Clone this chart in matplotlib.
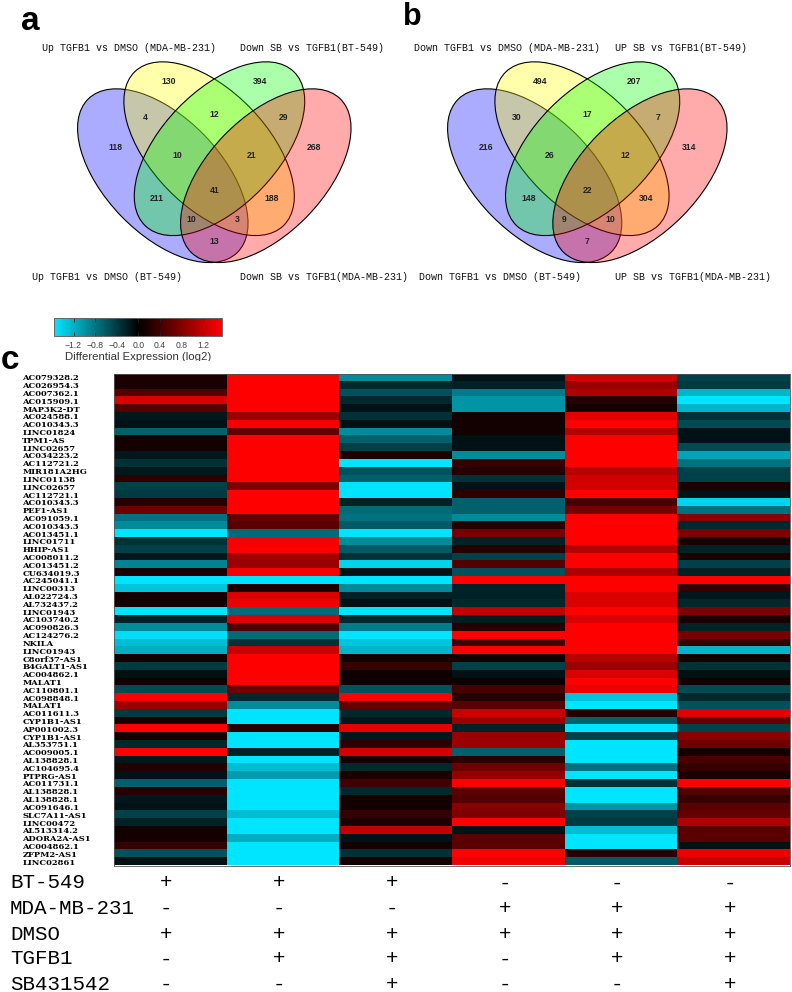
import numpy as np
import matplotlib
matplotlib.use('Agg')
import matplotlib.pyplot as plt
from matplotlib.patches import Ellipse
from matplotlib.colors import LinearSegmentedColormap, Normalize
from matplotlib.cm import ScalarMappable

#venn podaci
venn_a_names = ['Up TGFB1 vs DMSO (MDA-MB-231)', 'Down SB vs TGFB1(BT-549)',
                'Up TGFB1 vs DMSO (BT-549)', 'Down SB vs TGFB1(MDA-MB-231)']
venn_b_names = ['Down TGFB1 vs DMSO (MDA-MB-231)', 'UP SB vs TGFB1(BT-549)',
                'Down TGFB1 vs DMSO (BT-549)', 'UP SB vs TGFB1(MDA-MB-231)']
venn_a_counts = [118, 130, 394, 268, 4, 12, 29, 10, 21, 211, 41, 188, 10, 3, 13]
venn_b_counts = [216, 494, 207, 314, 30, 17, 7, 26, 12, 148, 22, 304, 9, 10, 7]

#heatmap podaci
genes = ['AC079328.2', 'AC026954.3', 'AC007362.1', 'AC015909.1', 'MAP3K2-DT', 'AC024588.1', 'AC010343.3',
         'LINC01824', 'TPM1-AS', 'LINC02657', 'AC034223.2', 'AC112721.2', 'MIR181A2HG', 'LINC01138',
         'LINC02657', 'AC112721.1', 'AC010343.3', 'PEF1-AS1', 'AC091059.1', 'AC010343.3', 'AC013451.1',
         'LINC01711', 'HHIP-AS1', 'AC008011.2', 'AC013451.2', 'CU634019.3', 'AC245041.1', 'LINC00313',
         'AL022724.3', 'AL732437.2', 'LINC01943', 'AC103740.2', 'AC090826.3', 'AC124276.2', 'NKILA',
         'LINC01943', 'C8orf37-AS1', 'B4GALT1-AS1', 'AC004862.1', 'MALAT1', 'AC110801.1', 'AC098848.1',
         'MALAT1', 'AC011611.3', 'CYP1B1-AS1', 'AP001002.3', 'CYP1B1-AS1', 'AL353751.1', 'AC009005.1',
         'AL138828.1', 'AC104695.4', 'PTPRG-AS1', 'AC011731.1', 'AL138828.1', 'AL138828.1', 'AC091646.1',
         'SLC7A11-AS1', 'LINC00472', 'AL513314.2', 'ADORA2A-AS1', 'AC004862.1', 'ZFPM2-AS1', 'LINC02861']

col1 = [0.15, 0.15, 0.45, 1.2, 0.45, -0.15, -0.12, -0.6, 0.12, 0.12, -0.15, -0.3, -0.15, 0.25, -0.4, -0.35,
        0.2, 0.6, -0.7, -0.85, -1.4, -0.3, -0.4, -0.15, -0.8, 0.15, -1.4, -1.2, 0.12, 0.12, -1.4, -0.2,
        -0.85, -1.35, -1.15, -1.05, 0.1, -0.35, -0.1, 0.1, -0.45, 1.4, 0.85, -0.35, 0.15, 1.4, 0.12, -0.25,
        1.4, -0.15, 0.2, -0.12, -0.6, 0.2, -0.15, -0.12, -0.4, -0.2, 0.12, 0.12, 0.3, -0.5, -0.1]
col2 = [1.4, 1.4, 1.4, 1.4, 1.4, 0.85, 1.35, 0.55, 1.4, 1.4, 1.4, 1.4, 1.4, 1.4, 0.7, 1.4,
        1.4, 1.4, 0.55, 0.5, -0.65, 1.35, 1.4, 0.9, 0.85, 1.35, -1.4, 0.15, 1.2, 1.3, -0.65, 1.2,
        0.45, -0.65, -0.3, 1.1, 1.4, 1.4, 1.4, 1.4, 0.6, -0.25, -0.85, -1.4, -1.4, 0.2, -1.4, -1.4,
        -0.2, -1.4, -1.15, -0.95, -1.4, -1.4, -1.4, -1.4, -1.15, -1.4, -1.4, -1.05, -1.4, -1.4, -1.4]
col3 = [-0.85, -0.25, -0.5, -0.25, -0.12, -0.3, -0.1, -0.85, -0.6, -0.4, 0.15, -1.4, -0.5, -0.6, -1.4, -1.4,
        -0.2, -0.65, -0.7, -0.55, -1.4, -0.85, -0.55, -0.3, -1.3, -0.12, -1.4, -0.85, -0.2, -0.1, -1.4, -0.25,
        -0.75, -1.4, -1.2, -1.1, 0.1, 0.3, 0.08, 0.08, -0.5, 1.4, 0.55, -0.25, -0.15, 1.25, -0.15, 0.25,
        1.15, 0.12, -0.25, 0.15, 0.35, -0.25, 0.12, 0.1, 0.3, 0.15, 1.05, -0.12, 0.1, -0.3, 0.12]
col4 = [-0.12, -0.2, -0.75, -0.9, -0.9, 0.1, 0.1, 0.1, -0.1, -0.12, -0.85, 0.3, 0.2, -0.3, -0.12, 0.25,
        -0.6, -0.6, -0.85, 0.2, 0.65, -0.2, 0.2, -0.4, 0.45, -0.5, 1.4, -0.2, -0.2, -0.25, 1.05, -0.18,
        0.2, 1.4, 0.35, 1.4, 0.1, -0.4, -0.12, 0.08, 0.4, 0.2, 0.5, 1.1, 0.85, -0.2, 0.85, 0.85,
        -0.6, 0.25, 0.6, 0.8, 1.4, 0.5, 0.45, 0.75, 0.7, 1.4, -0.12, 0.5, 0.5, 1.4, 1.3]
col5 = [1.15, 0.85, 0.95, 0.2, 0.12, 1.25, 1.4, 1.0, 1.4, 1.4, 1.4, 1.4, 1.0, 1.15, 1.15, 1.4,
        0.4, 0.65, 1.4, 1.4, 1.4, 1.4, 1.0, 1.4, 1.4, 0.95, 1.4, 1.4, 1.2, 1.2, 1.4, 1.2,
        1.4, 1.4, 1.4, 1.4, 1.0, 0.85, 1.2, 1.4, 1.3, -1.2, -1.4, 0.2, -0.6, -1.4, -0.4, -1.4,
        -1.4, -1.4, -0.7, -1.4, -0.3, -1.4, -1.4, -0.9, -0.4, -0.35, -1.15, -1.4, -1.4, 0.2, -0.55]
col6 = [-0.4, -0.35, -1.1, -1.4, -1.1, -0.3, -0.45, -0.12, -0.12, -0.45, -1.0, -0.7, -0.4, -0.4, 0.15, -0.12,
        -1.3, -0.7, 0.75, -0.25, 0.7, 0.15, -0.2, 0.15, -0.4, -0.2, 1.4, 0.3, -0.15, -0.25, 0.7, 0.15,
        -0.2, 0.65, 0.3, -1.1, 0.1, -0.3, -0.1, 0.1, -0.45, -0.25, -0.5, 1.25, 0.55, -0.4, 0.75, 0.6,
        0.12, 0.4, 0.3, 0.15, 1.4, 0.45, 0.3, 0.5, 0.55, 0.95, 0.5, 0.5, -0.1, 1.3, 1.1]

#tabela ispod heatmape
tabela_nazivi = ['BT-549', 'MDA-MB-231', 'DMSO', 'TGFB1', 'SB431542']
bt549 = ['+', '+', '+', '-', '-', '-']
mda = ['-', '-', '-', '+', '+', '+']
dmso = ['+', '+', '+', '+', '+', '+']
tgfb1 = ['-', '+', '+', '-', '+', '+']
sb = ['-', '-', '+', '-', '-', '+']

W, H = 792, 992
MONO = 'Liberation Mono'
SANS = 'Liberation Sans'

def rect(x0, y0, x1, y1):
    return [x0 / W, 1 - y1 / H, (x1 - x0) / W, (y1 - y0) / H]

fig = plt.figure(figsize=(W / 100, H / 100), dpi=100)

#pozadina za tekst, u pikselima
txt = fig.add_axes([0, 0, 1, 1])
txt.set_xlim(0, W)
txt.set_ylim(H, 0)
txt.axis('off')

txt.text(21, 30.5, 'a', fontsize=24, fontweight='bold', family=SANS, va='baseline')
txt.text(403, 25, 'b', fontsize=22, fontweight='bold', family=SANS, va='baseline')
txt.text(1, 369, 'c', fontsize=24, fontweight='bold', family=SANS, va='baseline')

#venn dijagrami
boje = [(0, 0, 1), (1, 1, 0), (0, 1, 0), (1, 0, 0)]
centri = [(-51.5, 175.7), (-5.2, 148.7), (5.2, 148.7), (51.5, 175.7)]
uglovi = [46, 46, -46, -46]
poz_x = [-99.3, -46, 45.7, 99.4, -69, 0, 69, -37.3, 37.4, -57.6, 0, 57.4, -22.6, 22.7, 0]
poz_y = [147.7, 81.7, 81.7, 147.7, 117, 114.7, 117, 155.7, 155.7, 198.7, 190.7, 198.7, 219, 219, 241.7]

def venn(cx, sx, counts):
    ax = fig.add_axes(rect(cx - 150 * sx, 40, cx + 150 * sx, 280))
    ax.set_xlim(-150, 150)
    ax.set_ylim(280, 40)
    ax.axis('off')
    ax.patch.set_alpha(0)
    for c, ug, b in zip(centri, uglovi, boje):
        ax.add_patch(Ellipse(c, 214, 116, angle=ug, facecolor=b + (0.33,), edgecolor='black', linewidth=0.8))
    for x, y, n in zip(poz_x, poz_y, counts):
        ax.text(x, y, str(n), ha='center', va='center', fontsize=6.2, fontweight='bold', family=SANS, color='#222222')

venn(214.3, 1.0, venn_a_counts)
venn(587.3, 1.022, venn_b_counts)

lab_a = [(42, 48), (240, 48), (32, 277), (240, 277)]
lab_b = [(414, 48), (615, 48), (419, 277), (615, 277)]
for (x, y), s in zip(lab_a + lab_b, venn_a_names + venn_b_names):
    txt.text(x, y, s, family=MONO, fontsize=7.2, va='center', color='#111111')

#colormap
cmap = LinearSegmentedColormap.from_list('cyan_black_red', ['#00e5ff', '#000000', '#ff0000'])

#colorbar
cax = fig.add_axes(rect(54.3, 318, 222.3, 336.3))
cb = fig.colorbar(ScalarMappable(Normalize(-1.556, 1.556), cmap), cax=cax, orientation='horizontal')
cb.set_ticks([-1.2, -0.8, -0.4, 0.0, 0.4, 0.8, 1.2])
cb.set_ticklabels(['\u22121.2', '\u22120.8', '\u22120.4', '0.0', '0.4', '0.8', '1.2'])
cax.tick_params(axis='x', top=True, bottom=True, direction='in', length=3, width=0.6, color='#222222',
                labelsize=6.2, pad=3.5, labelcolor='#444444')
for t in cax.get_xticklabels():
    t.set_family(SANS)
cb.outline.set_edgecolor('#666666')
cb.outline.set_linewidth(0.7)

#naslov colorbara, odsecen kao na originalu
nas = fig.add_axes(rect(54, 349, 222, 361))
nas.set_xlim(54, 222)
nas.set_ylim(361, 349)
nas.axis('off')
nas.text(138.5, 357.5, 'Differential Expression (log2)', ha='center', va='center', family=SANS,
         fontsize=8.2, color='#333333', clip_on=True)

#heatmap
ax = fig.add_axes(rect(114, 373.5, 790, 865.5))
vals = np.array([col1, col2, col3, col4, col5, col6]).T
ax.imshow(vals, cmap=cmap, vmin=-1.4, vmax=1.4, aspect='auto', interpolation='nearest')
ax.set_xticks([])
ax.set_yticks(range(len(genes)))
ax.set_yticklabels(genes, ha='left', family='DejaVu Serif', fontweight='bold', fontsize=6.0)
ax.tick_params(axis='y', length=0, pad=66)
for s in ax.spines.values():
    s.set_color('#555555')
    s.set_linewidth(0.6)

#tabela
kolone_x = [166, 279, 392, 505, 617, 730]
redovi_y = [883, 908, 934, 959, 984]
for naziv, znaci, y in zip(tabela_nazivi, [bt549, mda, dmso, tgfb1, sb], redovi_y):
    txt.text(10, y, naziv, family=MONO, fontsize=15, va='center', color='black')
    for x, z in zip(kolone_x, znaci):
        txt.text(x, y, z, family=MONO, fontsize=15, ha='center', va='center', color='black')

fig.savefig('out.png', dpi=100)
